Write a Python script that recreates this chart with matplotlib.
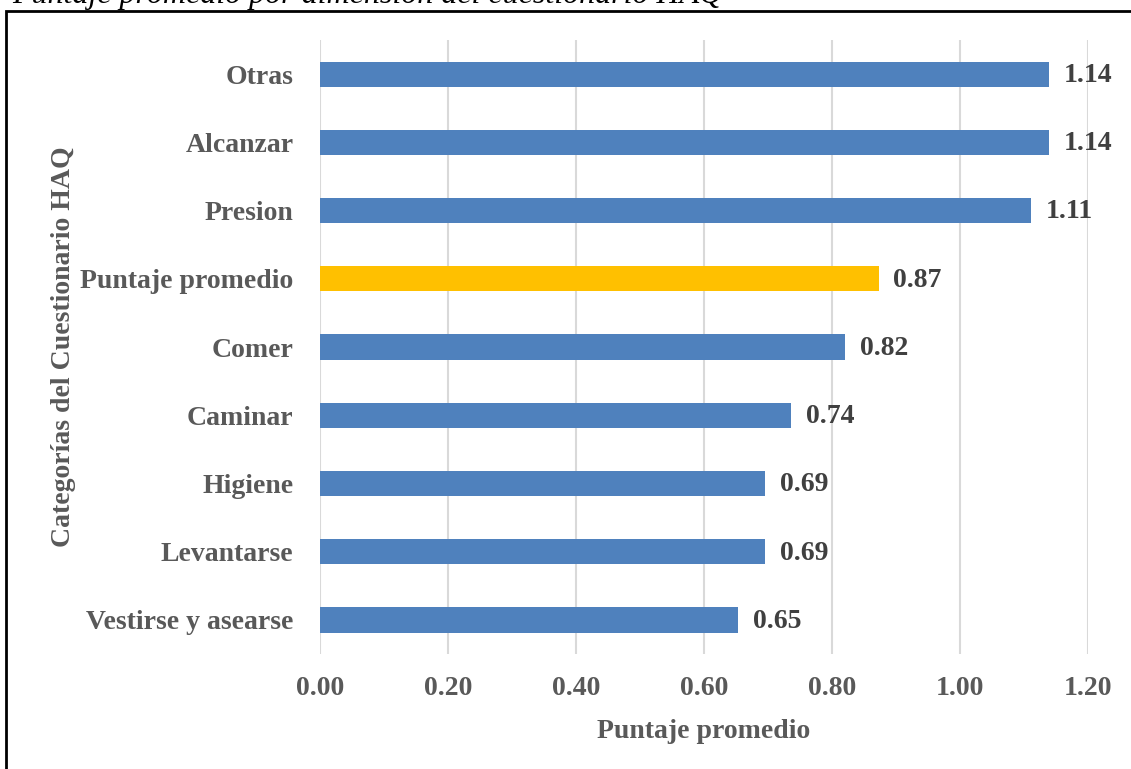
import matplotlib.pyplot as plt
from matplotlib.patches import Rectangle

categorias = ["Vestirse y asearse", "Levantarse", "Higiene", "Caminar", "Comer",
              "Puntaje promedio", "Presion", "Alcanzar", "Otras"]
puntajes = [0.653, 0.695, 0.695, 0.736, 0.82, 0.873, 1.111, 1.139, 1.139]
etiquetas = ["0.65", "0.69", "0.69", "0.74", "0.82", "0.87", "1.11", "1.14", "1.14"]
xticks = [0.0, 0.2, 0.4, 0.6, 0.8, 1.0, 1.2]

plt.rcParams['font.family'] = ['Liberation Serif', 'DejaVu Serif']

fig = plt.figure(figsize=(11.31, 7.69), dpi=100)
ax = fig.add_axes([0.2829, 0.1495, 0.6791, 0.7984])

colores = ['#FFC000' if c == "Puntaje promedio" else '#4F81BD' for c in categorias]
ax.barh(categorias, puntajes, height=0.37, color=colores, zorder=3)

for i, (v, t) in enumerate(zip(puntajes, etiquetas)):
    ax.text(v + 0.023, i - 0.02, t, va='center', ha='left', fontsize=20,
            fontweight='bold', color='#404040')

ax.set_xlim(0, 1.2)
ax.set_ylim(-0.5, len(categorias) - 0.5)
ax.set_xticks(xticks)
ax.set_xticklabels([f"{x:.2f}" for x in xticks])
ax.grid(axis='x', color='#D9D9D9', linewidth=1.5, zorder=0)
for s in ax.spines.values():
    s.set_visible(False)
ax.tick_params(length=0, labelsize=20, labelcolor='#595959')
ax.tick_params(axis='x', pad=16)
ax.tick_params(axis='y', pad=19)
for lab in ax.get_xticklabels() + ax.get_yticklabels():
    lab.set_fontweight('bold')

ax.set_xlabel("Puntaje promedio", fontsize=20, fontweight='bold', color='#595959', labelpad=13)
ax.set_ylabel("Categorías del Cuestionario HAQ", fontsize=20, fontweight='bold',
              color='#595959', labelpad=3)

# marco del grafico y titulo cortado arriba
fig.patches.append(Rectangle((6 / 1131, -0.05), 1.1, 1 - 11 / 769 + 0.05,
                             transform=fig.transFigure, fill=False,
                             edgecolor='black', linewidth=2))
fig.text(12 / 1131, 1 - 3 / 769, "Puntaje promedio por dimensión del cuestionario HAQ",
         fontsize=23, style='italic', color='black', va='baseline', ha='left')

fig.savefig("out.png", dpi=100)
